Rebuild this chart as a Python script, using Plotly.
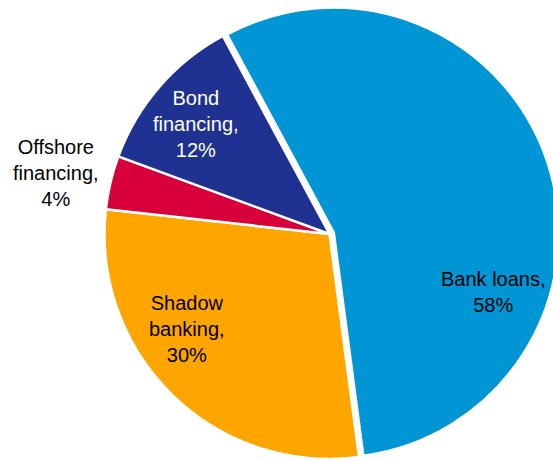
import plotly.graph_objects as go

# Share of total social financing by channel (%)
labels = ["Bank loans", "Shadow<br>banking", "Offshore<br>financing", "Bond<br>financing"]
values = [58, 30, 4, 12]
colors = ["#0096D6", "#FFA500", "#D7003A", "#1F3291"]
text_colors = ["#000000", "#000000", "#000000", "#FFFFFF"]
pulls = [0.02, 0, 0, 0]

# Canvas slightly wider/taller than the page so the pie can bleed off the right edge
W, H = 600, 470
CX, CY, R = 329.5, 234.0, 225.0          # pie centre and radius in px
half_box = R * (1 + max(pulls))
domain_x = [(CX - half_box) / W, (CX + half_box) / W]
domain_y = [1 - (CY + half_box) / H, 1 - (CY - half_box) / H]

# Label anchor points (px from top-left), one per slice
label_px = [(493.4, 292.0), (187.3, 329.0), (56.0, 173.0), (196.3, 124.5)]

fig = go.Figure(
    go.Pie(
        labels=labels,
        values=values,
        sort=False,
        direction="clockwise",
        rotation=-28.3,
        pull=pulls,
        marker=dict(colors=colors, line=dict(color="#FFFFFF", width=2.5)),
        textinfo="none",
        hovertemplate="%{label}: %{value}%<extra></extra>",
        automargin=False,
        domain=dict(x=domain_x, y=domain_y),
        showlegend=False,
    )
)

for lab, val, col, (px, py) in zip(labels, values, text_colors, label_px):
    fig.add_annotation(
        x=px / W,
        y=1 - py / H,
        xref="paper",
        yref="paper",
        xanchor="center",
        yanchor="middle",
        align="center",
        showarrow=False,
        text=f"{lab},<br>{val}%",
        font=dict(family="Liberation Sans, Arial, sans-serif", size=20, color=col),
    )

fig.update_layout(
    width=W,
    height=H,
    margin=dict(l=0, r=0, t=0, b=0, autoexpand=False),
    paper_bgcolor="#FFFFFF",
    font=dict(family="Liberation Sans, Arial, sans-serif"),
)

fig.write_html(
    "out.html",
    post_script="document.documentElement.style.overflow='hidden';document.body.style.overflow='hidden';document.body.style.margin='0';",
)
